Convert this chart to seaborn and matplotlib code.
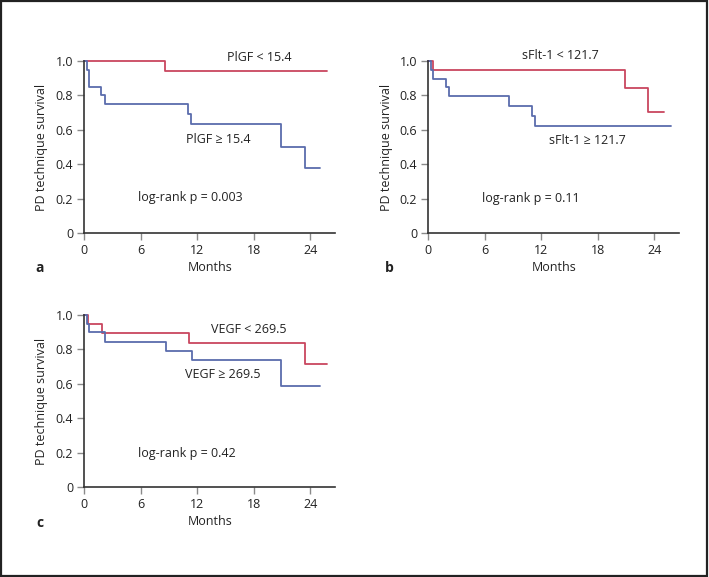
import matplotlib
matplotlib.use("Agg")
import matplotlib.pyplot as plt
import seaborn as sns
import pandas as pd
from matplotlib.patches import Rectangle

# ---- data ----
# Panel a: PlGF
a_low_t = [0, 8.6, 25.7]
a_low_s = [1.0, 0.94, 0.94]
a_high_t = [0, 0.3, 0.45, 1.8, 2.15, 11.0, 11.3, 20.9, 23.4, 25.0]
a_high_s = [1.0, 0.95, 0.85, 0.80, 0.75, 0.69, 0.633, 0.503, 0.378, 0.378]
# Panel b: sFlt-1
b_low_t = [0, 0.46, 20.9, 23.3, 25.05]
b_low_s = [1.0, 0.95, 0.843, 0.702, 0.702]
b_high_t = [0, 0.28, 0.5, 1.83, 2.15, 8.6, 11.0, 11.3, 25.7]
b_high_s = [1.0, 0.95, 0.897, 0.849, 0.799, 0.741, 0.683, 0.625, 0.625]
# Panel c: VEGF
c_low_t = [0, 0.35, 1.87, 11.06, 23.4, 25.7]
c_low_s = [1.0, 0.948, 0.896, 0.836, 0.716, 0.716]
c_high_t = [0, 0.25, 0.53, 2.19, 8.66, 11.4, 20.9, 25.0]
c_high_s = [1.0, 0.95, 0.90, 0.845, 0.791, 0.739, 0.588, 0.588]

x_ticks = [0, 6, 12, 18, 24]
y_ticks = [0, 0.2, 0.4, 0.6, 0.8, 1.0]
y_tick_labels = ["0", "0.2", "0.4", "0.6", "0.8", "1.0"]

labels_a = ["PlGF < 15.4", "PlGF \u2265 15.4", "log-rank p = 0.003"]
labels_b = ["sFlt-1 < 121.7", "sFlt-1 \u2265 121.7", "log-rank p = 0.11"]
labels_c = ["VEGF < 269.5", "VEGF \u2265 269.5", "log-rank p = 0.42"]

RED = "#c9465f"
BLUE = "#5a6cad"

sns.set_theme(style="ticks")
plt.rcParams["font.family"] = ["Open Sans", "DejaVu Sans"]
plt.rcParams["font.size"] = 9

W, H = 709, 577
fig = plt.figure(figsize=(W / 100, H / 100), dpi=100)
fig.patch.set_facecolor("white")
fig.patches.append(Rectangle((0.0015, 0.002), 0.996, 0.996, transform=fig.transFigure,
                             fill=False, edgecolor="#222222", linewidth=1.6))

def px_axes(left, right, top, bottom):
    return fig.add_axes([left / W, 1 - bottom / H, (right - left) / W, (bottom - top) / H])

def draw_panel(ax, low_t, low_s, high_t, high_s, labels, pos, ylab_x, panel, panel_xy):
    df_low = pd.DataFrame({"t": low_t, "s": low_s})
    df_high = pd.DataFrame({"t": high_t, "s": high_s})
    sns.lineplot(data=df_low, x="t", y="s", ax=ax, color=RED, lw=1.3,
                 drawstyle="steps-post", estimator=None, sort=False, clip_on=False)
    sns.lineplot(data=df_high, x="t", y="s", ax=ax, color=BLUE, lw=1.3,
                 drawstyle="steps-post", estimator=None, sort=False, clip_on=False)
    ax.set_xlim(0, 26.6)
    ax.set_ylim(0, 1.0)
    ax.set_xticks(x_ticks)
    ax.set_yticks(y_ticks)
    ax.set_yticklabels(y_tick_labels)
    ax.tick_params(axis="both", length=5, width=1, color="#8a8a8a", labelsize=9,
                   labelcolor="#222222", pad=3)
    for s in ["top", "right"]:
        ax.spines[s].set_visible(False)
    for s in ["left", "bottom"]:
        ax.spines[s].set_color("#333333")
        ax.spines[s].set_linewidth(1.2)
    ax.set_xlabel("Months", fontsize=9, color="#222222")
    ax.xaxis.set_label_coords(0.5, -0.20)
    ax.xaxis.label.set_va("center")
    ax.set_ylabel("PD technique survival", fontsize=9, color="#222222")
    ax.yaxis.set_label_coords(ylab_x, 0.5)
    for txt, (x, y) in zip(labels, pos):
        ax.text(x, y, txt, ha="center", va="center", fontsize=9, color="#222222", clip_on=False)
    fig.text(panel_xy[0] / W, 1 - panel_xy[1] / H, panel, fontsize=10, fontweight="bold",
             ha="center", va="center", color="#222222")

ax_a = px_axes(84.3, 335, 61, 233.3)
draw_panel(ax_a, a_low_t, a_low_s, a_high_t, a_high_s, labels_a,
           [(18.6, 1.023), (14.2, 0.547), (11.2, 0.205)], -0.145, "a", (40, 268))

ax_b = px_axes(428.3, 679, 61, 233.3)
draw_panel(ax_b, b_low_t, b_low_s, b_high_t, b_high_s, labels_b,
           [(14.0, 1.03), (16.9, 0.54), (10.9, 0.203)], -0.141, "b", (389, 268))

ax_c = px_axes(84.3, 335, 315, 487.3)
draw_panel(ax_c, c_low_t, c_low_s, c_high_t, c_high_s, labels_c,
           [(17.4, 0.913), (14.7, 0.652), (10.9, 0.199)], -0.145, "c", (40, 523))

fig.savefig("out.png", dpi=100, facecolor="white")
